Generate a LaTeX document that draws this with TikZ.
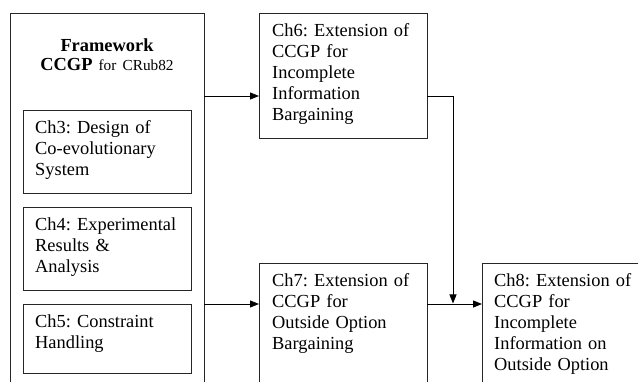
\documentclass[tikz,border=0pt]{standalone}
\usepackage{fontspec}
\setmainfont{Liberation Serif}
\frenchspacing
\usetikzlibrary{arrows.meta,calc}
\begin{document}
\begin{tikzpicture}[x=1pt,y=-1pt,
  box/.style={draw=black!85, line width=0.9pt, inner sep=0pt, outer sep=0pt},
  boxtext/.style={anchor=base west, inner sep=0pt, text width=160pt, align=left,
    font=\fontsize{18.4pt}{21pt}\selectfont},
  link/.style={draw=black, line width=0.9pt},
  arrow/.style={link, -{Triangle[length=9pt,width=7pt]}}]
\useasboundingbox (0,0) rectangle (638,382);
\clip (0,0) rectangle (638,382);

% framework container and its chapter boxes
\node[box, minimum width=194pt, minimum height=382pt, anchor=north west] (fw) at (10,13) {};
\node[anchor=base, inner sep=0pt, text width=190pt, align=center,
  font=\fontsize{18.4pt}{19pt}\selectfont] (fwtitle) at (107,52)
  {\textbf{Framework}\\\textbf{CCGP} {\fontsize{15.3pt}{19pt}\selectfont for CRub82}};

\node[box, minimum width=168pt, minimum height=83pt, anchor=north west] (ch3) at (23,110) {};
\node[boxtext] (ch3t) at ($(ch3.north west)+(12,23.5)$) {Ch3: Design of\\Co-evolutionary\\System};

\node[box, minimum width=168pt, minimum height=83pt, anchor=north west] (ch4) at (23,207) {};
\node[boxtext] (ch4t) at ($(ch4.north west)+(12,24)$) {Ch4: Experimental\\Results \&\\Analysis};

\node[box, minimum width=168pt, minimum height=69pt, anchor=north west] (ch5) at (23,304) {};
\node[boxtext] (ch5t) at ($(ch5.north west)+(12,23.5)$) {Ch5: Constraint\\Handling};

% extension chapters
\node[box, minimum width=168pt, minimum height=125pt, anchor=north west] (ch6) at (259,13) {};
\node[boxtext] (ch6t) at ($(ch6.north west)+(13,23.5)$) {Ch6: Extension of\\CCGP for\\Incomplete\\Information\\Bargaining};

\node[box, minimum width=168pt, minimum height=140pt, anchor=north west] (ch7) at (259,263) {};
\node[boxtext] (ch7t) at ($(ch7.north west)+(13,24)$) {Ch7: Extension of\\CCGP for\\Outside Option\\Bargaining};

\node[box, minimum width=168pt, minimum height=140pt, anchor=north west] (ch8) at (482,263) {};
\node[boxtext] (ch8t) at ($(ch8.north west)+(12,24)$) {Ch8: Extension of\\CCGP for\\Incomplete\\Information on\\Outside Option};

% connectors
\coordinate (upper) at (0,96);
\coordinate (lower) at (0,304);
\coordinate (bend) at (453,96);
\draw[arrow] (fw.east |- upper) -- (ch6.west |- upper);
\draw[arrow] (fw.east |- lower) -- (ch7.west |- lower);
\draw[arrow] (ch7.east |- lower) -- (ch8.west |- lower);
\draw[arrow] (ch6.east |- upper) -- (bend) -- ($(bend |- lower)+(0,-0.5)$);
\end{tikzpicture}
\end{document}
